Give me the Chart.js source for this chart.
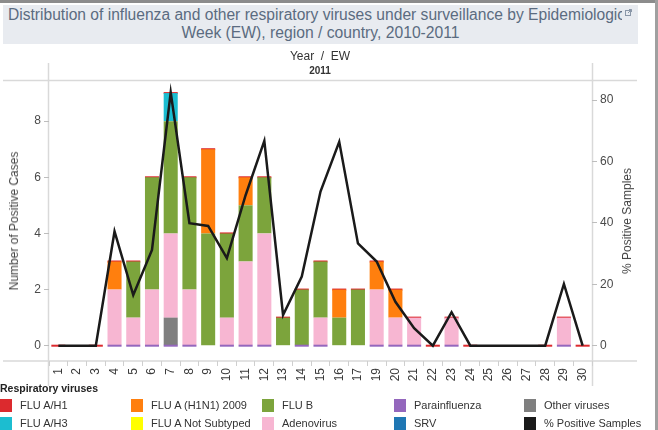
<!DOCTYPE html>
<html>
<head>
<meta charset="utf-8">
<script src="https://cdn.jsdelivr.net/npm/chart.js@4/dist/chart.umd.min.js"></script>
<style>
html,body{margin:0;padding:0;background:#fff;width:658px;height:430px;overflow:hidden;font-family:"Liberation Sans",Arial,sans-serif;}
#wrap{position:relative;width:658px;height:430px;}
#c{position:absolute;left:0;top:0;}
.abs{position:absolute;white-space:nowrap;}
#topbar{left:0;top:0;width:658px;height:3px;background:#8c8c8c;}
#rightbar{left:655px;top:0;width:3px;height:430px;background:#a0a0a0;}
#titlebox{left:3px;top:5px;width:635px;height:39px;background:#e8ebf0;}
#t1{left:8px;top:6px;width:614px;overflow:hidden;font-size:15.6px;line-height:18px;color:#5b6b80;}
#t2{left:3px;top:24px;width:635px;text-align:center;font-size:15.7px;line-height:18px;color:#5b6b80;}
#icon{left:625px;top:9px;width:7px;height:7px;}
#yearew{left:220px;top:49px;width:200px;text-align:center;font-size:12px;line-height:14px;color:#333;}
#year{left:220px;top:65px;width:200px;text-align:center;font-size:10px;font-weight:bold;line-height:12px;color:#333;}
.rot{position:absolute;white-space:nowrap;transform:translate(-50%,-50%) rotate(-90deg);font-size:12px;color:#444;}
#legend{position:absolute;left:0;top:382px;width:658px;height:48px;}
#legtitle{left:0;top:0;font-size:10.5px;font-weight:bold;color:#222;line-height:13px;}
.sw{position:absolute;width:12px;height:13px;}
.lt{position:absolute;font-size:11px;color:#333;line-height:14px;white-space:nowrap;}
</style>
</head>
<body>
<div id="wrap">
<canvas id="c" width="658" height="430"></canvas>
<div class="abs" id="topbar"></div>
<div class="abs" id="rightbar"></div>
<div class="abs" id="titlebox"></div>
<div class="abs" id="t1">Distribution of influenza and other respiratory viruses under surveillance by Epidemiologic</div>
<div class="abs" id="t2">Week (EW), region / country, 2010-2011</div>
<svg class="abs" id="icon" viewBox="0 0 7 7"><rect x="0.5" y="1.5" width="5" height="5" fill="none" stroke="#8a97a8" stroke-width="1"/><path d="M3 4 L6.5 0.5 M4 0.5 H6.5 V3" stroke="#8a97a8" stroke-width="1" fill="none"/></svg>
<div class="abs" id="yearew">Year &nbsp;/ &nbsp;EW</div>
<div class="abs" id="year">2011</div>
<div class="rot" id="ytitle" style="left:14px;top:221px;">Number of Positive Cases</div>
<div class="rot" id="y1title" style="left:627px;top:221px;">% Positive Samples</div>
<div id="legend"><div class="abs" id="legtitle">Respiratory viruses</div></div>
</div>
<script>
// ---- data ----
const weeks = ['1','2','3','4','5','6','7','8','9','10','11','12','13','14','15','16','17','19','20','21','22','23','24','25','26','27','28','29','30'];
//                     1    2    3  4  5  6  7  8  9 10 11 12 13 14 15 16 17 19 20 21 22 23 24   25   26   27  28 29 30
const fluAH1       = [0, null, 0, 0, 0, 0, 0, 0, 0, 0, 0, 0, 0, 0, 0, 0, 0, 0, 0, 0, 0, 0, 0, null,null,null, 0, 0, 0];
const fluAH3       = [0, null, 0, 0, 0, 0, 1, 0, 0, 0, 0, 0, 0, 0, 0, 0, 0, 0, 0, 0, 0, 0, 0, null,null,null, 0, 0, 0];
const fluAH1N12009 = [0, null, 0, 1, 0, 0, 0, 0, 3, 0, 1, 0, 0, 0, 0, 1, 0, 1, 1, 0, 0, 0, 0, null,null,null, 0, 0, 0];
const fluB         = [0, null, 0, 0, 2, 4, 4, 4, 4, 3, 2, 2, 1, 2, 2, 1, 2, 0, 0, 0, 0, 0, 0, null,null,null, 0, 0, 0];
const adenovirus   = [0, null, 0, 2, 1, 2, 3, 2, 0, 1, 3, 4, 0, 0, 1, 0, 0, 2, 1, 1, 0, 1, 0, null,null,null, 0, 1, 0];
const otherViruses = [0, null, 0, 0, 0, 0, 1, 0, 0, 0, 0, 0, 0, 0, 0, 0, 0, 0, 0, 0, 0, 0, 0, null,null,null, 0, 0, 0];
const parainfluenza= [null,null,null,0,0,0, 0, 0,null,0, 0, 0,null,0, 0,null,null,0, 0, 0,null,0,null,null,null,null,null,0,null];
const pctPositive  = [0, 0, 0, 37.2, 16.5, 31.2, 82.5, 39.9, 39.0, 28.5, 49.0, 66.7, 10.0, 22.5, 50.2, 66.4, 33.3, 27.4, 14.3, 5.7, 0, 10.9, 0, 0, 0, 0, 0, 20.1, 0];
const leftTicks  = [0, 2, 4, 6, 8];
const rightTicks = [0, 20, 40, 60, 80];

const legendNames  = ['FLU A/H1','FLU A/H3','FLU A (H1N1) 2009','FLU A Not Subtyped','FLU B','Adenovirus','Parainfluenza','SRV','Other viruses','% Positive Samples'];
const legendColors = ['#dc2a2e','#1cbdd0','#ff7f0e','#ffff00','#7ca43c','#f7b6d2','#9467bd','#1f77b4','#7f7f7f','#1a1a1a'];

// ---- legend (HTML) ----
const leg = document.getElementById('legend');
const colX = [0, 131, 262, 394, 524];
legendNames.forEach((n, i) => {
  const col = Math.floor(i / 2), row = i % 2;
  const top = row === 0 ? 17 : 35;
  const sw = document.createElement('div');
  sw.className = 'sw';
  sw.style.left = colX[col] + 'px';
  sw.style.top = top + 'px';
  sw.style.background = legendColors[i];
  leg.appendChild(sw);
  const t = document.createElement('div');
  t.className = 'lt';
  t.style.left = (colX[col] + 20) + 'px';
  t.style.top = (top - 1) + 'px';
  t.textContent = n;
  leg.appendChild(t);
});

// ---- chart ----
Chart.defaults.font.family = "'Liberation Sans', Arial, sans-serif";
const C = {
  red: legendColors[0], cyan: legendColors[1], orange: legendColors[2], green: legendColors[4],
  pink: legendColors[5], purple: legendColors[6], gray: legendColors[8], black: legendColors[9]
};
const frame = {
  id: 'frame',
  beforeDraw(chart) {
    const ctx = chart.ctx, a = chart.chartArea;
    ctx.save();
    ctx.strokeStyle = '#d9d9d9';
    ctx.lineWidth = 1.5;
    ctx.beginPath();
    ctx.moveTo(3, a.top - 0.5); ctx.lineTo(637, a.top - 0.5);
    ctx.moveTo(3, a.bottom); ctx.lineTo(637, a.bottom);
    ctx.moveTo(a.left - 0.5, 63); ctx.lineTo(a.left - 0.5, 386);
    ctx.moveTo(a.right + 0.5, 63); ctx.lineTo(a.right + 0.5, 386);
    ctx.stroke();
    ctx.restore();
  }
};
const barCommon = { type: 'bar', yAxisID: 'y', stack: 'main', barPercentage: 1, categoryPercentage: 0.75, borderWidth: 0 };
new Chart(document.getElementById('c'), {
  data: {
    labels: weeks,
    datasets: [
      Object.assign({}, barCommon, { label: 'Other viruses', data: otherViruses, backgroundColor: C.gray }),
      Object.assign({}, barCommon, { label: 'Adenovirus', data: adenovirus, backgroundColor: C.pink }),
      Object.assign({}, barCommon, { label: 'FLU B', data: fluB, backgroundColor: C.green }),
      Object.assign({}, barCommon, { label: 'FLU A (H1N1) 2009', data: fluAH1N12009, backgroundColor: C.orange }),
      Object.assign({}, barCommon, { label: 'FLU A/H3', data: fluAH3, backgroundColor: C.cyan }),
      Object.assign({}, barCommon, { label: 'FLU A/H1', data: fluAH1, backgroundColor: C.red, minBarLength: 2 }),
      Object.assign({}, barCommon, { label: 'Parainfluenza', data: parainfluenza, backgroundColor: C.purple, stack: 'para', grouped: false, minBarLength: 2, order: -0.5 }),
      { type: 'line', label: '% Positive Samples', data: pctPositive, yAxisID: 'y1', borderColor: C.black, borderWidth: 2.5,
        pointRadius: 0, tension: 0, fill: false, order: -1 }
    ]
  },
  options: {
    responsive: false,
    animation: false,
    devicePixelRatio: 1,
    layout: { padding: { left: 0, right: 0, top: 81, bottom: 39 } },
    plugins: { legend: { display: false }, tooltip: { enabled: false } },
    scales: {
      x: {
        stacked: true,
        offset: true,
        border: { display: false },
        grid: { offset: true, drawOnChartArea: false, drawTicks: true, tickLength: 5, color: '#cfcfcf', lineWidth: 1 },
        ticks: { autoSkip: false, maxRotation: 90, minRotation: 90, padding: 2, color: '#3a3a3a', font: { size: 12 } },
        afterFit(s) { s.height = 30; }
      },
      y: {
        position: 'left',
        stacked: true,
        min: -0.545,
        max: 9.43,
        border: { display: false },
        grid: { drawOnChartArea: false, drawTicks: true, tickLength: 5, color: '#bdbdbd' },
        ticks: { padding: 3, color: '#4a4a4a', font: { size: 12 } },
        afterBuildTicks(s) { s.ticks = leftTicks.map(v => ({ value: v })); },
        afterFit(s) { s.width = 49; }
      },
      y1: {
        position: 'right',
        stacked: false,
        min: -4.98,
        max: 86.2,
        border: { display: false },
        grid: { drawOnChartArea: false, drawTicks: true, tickLength: 5, color: '#bdbdbd' },
        ticks: { padding: 3, color: '#4a4a4a', font: { size: 12 } },
        afterBuildTicks(s) { s.ticks = rightTicks.map(v => ({ value: v })); },
        afterFit(s) { s.width = 66; }
      }
    }
  },
  plugins: [frame]
});
</script>
</body>
</html>
